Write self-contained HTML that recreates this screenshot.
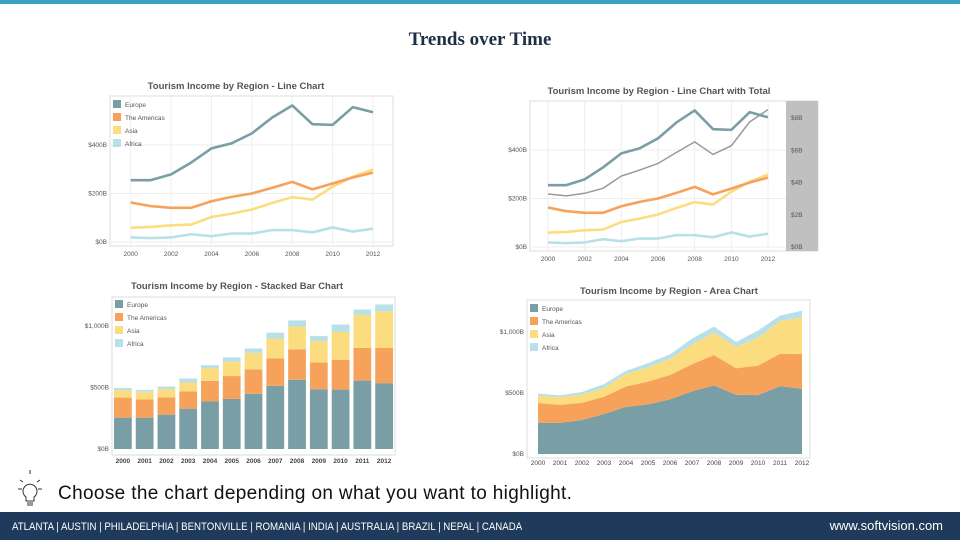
<!DOCTYPE html>
<html><head><meta charset="utf-8">
<style>
body{margin:0;width:960px;height:540px;position:relative;background:#fff;font-family:"Liberation Sans",sans-serif;overflow:hidden}
#topbar{position:absolute;left:0;top:0;width:960px;height:4px;background:#3aa3c4}
#title{position:absolute;left:0;width:960px;top:29px;text-align:center;font-family:"Liberation Serif",serif;font-size:19px;color:#1e2f45;font-weight:bold}
#tip{position:absolute;left:58px;top:483px;font-size:19px;letter-spacing:0.35px;color:#111}
#footer{position:absolute;left:0;top:512px;width:960px;height:28px;background:#1f3a5a;color:#fff;font-size:11px}
#footer .l{position:absolute;left:12px;top:9px;transform:scaleX(0.88);transform-origin:left}
#footer .r{position:absolute;right:17px;top:6px;font-size:13px}
svg{position:absolute;left:0;top:0}
</style></head><body>
<div id="topbar"></div>
<div id="title">Trends over Time</div>
<svg id="s" width="960" height="540">
<g stroke="#333" fill="none" stroke-width="1">
<path d="M26,497 a7,7 0 1 1 8,0 l0,4 l-8,0 z"/><line x1="27" y1="503" x2="33" y2="503"/><line x1="27" y1="505" x2="33" y2="505"/>
<line x1="30" y1="470" x2="30" y2="474"/><line x1="20" y1="480" x2="23" y2="482"/><line x1="40" y1="480" x2="37" y2="482"/><line x1="18" y1="489" x2="22" y2="489"/><line x1="38" y1="489" x2="42" y2="489"/></g>
</svg>
<div id="tip">Choose the chart depending on what you want to highlight.</div>
<div id="footer"><span class="l">ATLANTA | AUSTIN | PHILADELPHIA | BENTONVILLE | ROMANIA | INDIA | AUSTRALIA | BRAZIL | NEPAL | CANADA</span><span class="r">www.softvision.com</span></div>
<script>
const years=[2000,2001,2002,2003,2004,2005,2006,2007,2008,2009,2010,2011,2012];
const europe=[255,255,279,328,386,407,448,513,563,486,483,556,535];
const americas=[163,148,141,141,168,186,200,223,248,217,241,266,286];
const asia=[59,62,69,72,103,117,134,161,185,175,228,269,299];
const africa=[19,16,19,32,24,35,35,49,49,40,60,43,55];
const totals=[3.29,3.17,3.33,3.64,4.40,4.77,5.18,5.86,6.52,5.74,6.28,7.76,8.52];
const seriesNames=["Europe","The Americas","Asia","Africa"];
const colors=["#7a9ea5","#f6a25a","#fbdd80","#b8e0e8"];
const lineTicks=[0,200,400];const lineTickLabels=["$0B","$200B","$400B"];
const stackTicks=[0,500,1000];const stackTickLabels=["$0B","$500B","$1,000B"];
const rightTicks=[0,2,4,6,8];const rightTickLabels=["$0B","$2B","$4B","$6B","$8B"];
const S=document.getElementById('s');const NS='http://www.w3.org/2000/svg';
function mk(t,a,p){const e=document.createElementNS(NS,t);for(const k in a)e.setAttribute(k,a[k]);(p||S).appendChild(e);return e;}
function txt(x,y,s,a,p){const e=mk('text',Object.assign({x:x,y:y,'font-size':6.5,fill:'#555','font-family':'Liberation Sans, sans-serif'},a),p);e.textContent=s;return e;}
const all=[europe,americas,asia,africa];
function legend(g,x,y){seriesNames.forEach((n,i)=>{const r=mk('rect',{x:x,y:y+i*13,width:8,height:8,fill:colors[i]},g);


const t=txt(x+12,y+i*13+7,n,{},g);

});}
function lineChart(name,L,R,T,B,x0,x1,yb,yt,title,tx,ty,withTotal){
 const g=mk('g',{});
 
 
 const X=i=>x0+(x1-x0)*i/(years.length-1);const Y=v=>yb-(yb-yt)*v/400;
 const tt=txt(tx,ty,title,{'font-size':9.5,'font-weight':'bold',fill:'#555','text-anchor':'middle'},g);
 
 mk('rect',{x:L,y:T,width:R-L,height:B-T,fill:'none',stroke:'#ddd'},g);
 for(let i=0;i<years.length;i+=2){mk('line',{x1:X(i),x2:X(i),y1:T,y2:B,stroke:'#eee'},g);
  const l=txt(X(i),B+10,String(years[i]),{'text-anchor':'middle'},g);}
 lineTicks.forEach((v,i)=>{mk('line',{x1:L,x2:R,y1:Y(v),y2:Y(v),stroke:'#eee'},g);
  const l=txt(L-3,Y(v)+2,lineTickLabels[i],{'text-anchor':'end'},g);});
 if(withTotal){const rb=withTotal;
  const bg=mk('rect',{x:rb.x,y:T,width:rb.w,height:B-T,fill:'#c0c0c0'},g);
  const RY=v=>yb-(yb-rb.top)*v/8;
  rightTicks.forEach((v,i)=>{const l=txt(rb.x+5,RY(v)+2,rightTickLabels[i],{},g);});
  const p=mk('polyline',{points:totals.map((v,i)=>X(i)+','+RY(v)).join(' '),fill:'none',stroke:'#999',"stroke-width":1.5},g);
  }
 [3,2,1,0].forEach(s=>{const p=mk('polyline',{points:all[s].map((v,i)=>X(i)+','+Y(v)).join(' '),fill:'none',stroke:colors[s],'stroke-width':2.6,'stroke-linejoin':'round'},g);
  });
 if(!withTotal)legend(g,L+3,T+4);
}
lineChart('line-chart',110,393,96,246,130.7,373,242,145,'Tourism Income by Region - Line Chart',236,89,null);
lineChart('line-chart-with-total',530,818,101,251,548,768,247,150,'Tourism Income by Region - Line Chart with Total',659,94,{x:786,w:32,top:118});
(function(){const g=mk('g',{});
 
 const L=112,R=395,T=297,B=455,yb=449,yt=326;const Y=v=>yb-(yb-yt)*v/1000;const step=(R-L)/13;
 const tt=txt(237,289,'Tourism Income by Region - Stacked Bar Chart',{'font-size':9.5,'font-weight':'bold',fill:'#555','text-anchor':'middle'},g);
 
 mk('rect',{x:L,y:T,width:R-L,height:B-T,fill:'none',stroke:'#ddd'},g);
 stackTicks.forEach((v,i)=>{const l=txt(L-3,Y(v)+2,stackTickLabels[i],{'text-anchor':'end'},g);});
 years.forEach((yr,i)=>{let acc=0;const x=L+step*i+2;
  all.forEach((ser,s)=>{const r=mk('rect',{x:x,y:Y(acc+ser[i]),width:step-4,height:Y(acc)-Y(acc+ser[i]),fill:colors[s]},g);
   acc+=ser[i];});
  const l=txt(x+(step-4)/2,B+8,String(yr),{'text-anchor':'middle','font-weight':'bold','font-size':6.5,fill:'#444'},g);
  });
 legend(g,L+3,T+3);})();
(function(){const g=mk('g',{});
 
 const L=527,R=810,T=300,B=458,yb=454,yt=332,x0=538,x1=802;const Y=v=>yb-(yb-yt)*v/1000;const X=i=>x0+(x1-x0)*i/12;
 const tt=txt(669,294,'Tourism Income by Region - Area Chart',{'font-size':9.5,'font-weight':'bold',fill:'#555','text-anchor':'middle'},g);
 
 mk('rect',{x:L,y:T,width:R-L,height:B-T,fill:'none',stroke:'#ddd'},g);
 stackTicks.forEach((v,i)=>{const l=txt(L-3,Y(v)+2,stackTickLabels[i],{'text-anchor':'end'},g);});
 const base=years.map(()=>0);
 all.forEach((ser,s)=>{const top=ser.map((v,i)=>base[i]+v);
  const pts=top.map((v,i)=>X(i)+','+Y(v)).concat(base.map((v,i)=>X(i)+','+Y(v)).reverse());
  const p=mk('polygon',{points:pts.join(' '),fill:colors[s]},g);
  
  top.forEach((v,i)=>base[i]=v);});
 years.forEach((yr,i)=>{const l=txt(X(i),B+7,String(yr),{'text-anchor':'middle','font-size':6.5,fill:'#444'},g);
  });
 legend(g,L+3,T+4);})();
</script>
</body></html>
